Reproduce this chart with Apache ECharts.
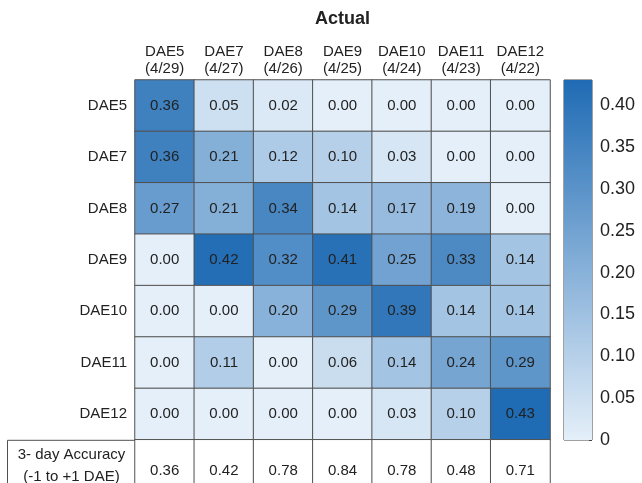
<!DOCTYPE html>
<html>
<head>
<meta charset="utf-8">
<script src="https://cdn.jsdelivr.net/npm/echarts@6/dist/echarts.min.js"></script>
<style>
  html, body { margin: 0; padding: 0; background: #fff; }
  #chart { width: 642px; height: 483px; }
</style>
</head>
<body>
<div id="chart"></div>
<script>
// Actual stage (columns) and predicted stage (rows)
const actualStages = ['DAE5', 'DAE7', 'DAE8', 'DAE9', 'DAE10', 'DAE11', 'DAE12'];
const actualDates = ['(4/29)', '(4/27)', '(4/26)', '(4/25)', '(4/24)', '(4/23)', '(4/22)'];
const predictedStages = ['DAE5', 'DAE7', 'DAE8', 'DAE9', 'DAE10', 'DAE11', 'DAE12'];

// Fraction of samples per predicted row (one array per row)
const rowDAE5 = [0.36, 0.05, 0.02, 0.00, 0.00, 0.00, 0.00];
const rowDAE7 = [0.36, 0.21, 0.12, 0.10, 0.03, 0.00, 0.00];
const rowDAE8 = [0.27, 0.21, 0.34, 0.14, 0.17, 0.19, 0.00];
const rowDAE9 = [0.00, 0.42, 0.32, 0.41, 0.25, 0.33, 0.14];
const rowDAE10 = [0.00, 0.00, 0.20, 0.29, 0.39, 0.14, 0.14];
const rowDAE11 = [0.00, 0.11, 0.00, 0.06, 0.14, 0.24, 0.29];
const rowDAE12 = [0.00, 0.00, 0.00, 0.00, 0.03, 0.10, 0.43];

// 3-day accuracy per actual stage (-1 to +1 DAE)
const accuracy = [0.36, 0.42, 0.78, 0.84, 0.78, 0.48, 0.71];
const accuracyLabel = '3- day Accuracy\n(-1 to +1 DAE)';

// Colour scale
const colorMin = 0;
const colorMax = 0.43;
const colorTicks = [0, 0.05, 0.10, 0.15, 0.20, 0.25, 0.30, 0.35, 0.40];
const colorLight = '#e4eff9';
const colorDark = '#1f6bb4';

const rows = [rowDAE5, rowDAE7, rowDAE8, rowDAE9, rowDAE10, rowDAE11, rowDAE12];
const ACC = 'acc';
const yCats = predictedStages.concat([ACC]);

const heatData = [];
rows.forEach((r, ri) => r.forEach((v, ci) => heatData.push([ci, ri, v])));
const accData = accuracy.map((v, ci) => [ci, predictedStages.length, v]);

// layout
const gridLeft = 135, gridTop = 80, gridWidth = 415, rowH = 51.4;
const gridHeight = rowH * yCats.length;

const FONT = 'Liberation Sans, Arial, sans-serif';
const TXT = '#222';
const EDGE = '#505050';

const chart = echarts.init(document.getElementById('chart'));
chart.setOption({
  animation: false,
  textStyle: { fontFamily: FONT },
  grid: [
    { left: gridLeft, top: gridTop, width: gridWidth, height: gridHeight, outerBoundsMode: 'none', containLabel: false },
    { left: 564, top: 80, width: 28, height: 360, show: true, borderColor: '#444', borderWidth: 1, backgroundColor: 'transparent', outerBoundsMode: 'none', containLabel: false }
  ],
  xAxis: [
    {
      gridIndex: 0,
      type: 'category',
      position: 'top',
      data: actualStages.map((s, i) => s + '\n' + actualDates[i]),
      axisLine: { show: false },
      axisTick: { show: false },
      axisLabel: { interval: 0, fontSize: 15, lineHeight: 17, color: TXT, margin: 3, fontFamily: FONT },
      name: 'Actual',
      nameLocation: 'middle',
      nameGap: 52,
      nameTextStyle: { fontSize: 18, fontWeight: 'bold', color: TXT, fontFamily: FONT },
      splitArea: { show: false }
    },
    {
      gridIndex: 1,
      type: 'category',
      data: ['c'],
      show: false
    }
  ],
  yAxis: [
    {
      gridIndex: 0,
      type: 'category',
      inverse: true,
      data: yCats,
      axisLine: { show: false },
      axisTick: { show: false },
      axisLabel: {
        interval: 0, fontSize: 15, color: TXT, margin: 8, fontFamily: FONT,
        formatter: v => (v === ACC ? '' : v)
      }
    },
    {
      gridIndex: 1,
      type: 'value',
      position: 'right',
      min: colorMin,
      max: colorMax,
      interval: 0.05,
      splitLine: { show: false },
      axisLine: { show: false },
      axisTick: { show: true, inside: true, length: 3, lineStyle: { color: '#444' } },
      axisLabel: {
        fontSize: 18, color: TXT, margin: 8, fontFamily: FONT,
        showMaxLabel: true,
        formatter: v => {
          const hit = colorTicks.find(t => Math.abs(t - v) < 1e-6);
          if (hit === undefined) return '';
          return hit === 0 ? '0' : hit.toFixed(2);
        }
      }
    }
  ],
  visualMap: {
    show: false,
    type: 'continuous',
    seriesIndex: 0,
    dimension: 2,
    min: colorMin,
    max: colorMax,
    inRange: { color: [colorLight, colorDark] }
  },
  series: [
    {
      type: 'heatmap',
      xAxisIndex: 0,
      yAxisIndex: 0,
      data: heatData,
      itemStyle: { borderColor: EDGE, borderWidth: 1 },
      label: { show: true, fontSize: 15, color: TXT, fontFamily: FONT, formatter: p => p.value[2].toFixed(2) },
      emphasis: { disabled: true }
    },
    {
      type: 'heatmap',
      xAxisIndex: 0,
      yAxisIndex: 0,
      data: accData,
      itemStyle: { color: '#ffffff', borderColor: EDGE, borderWidth: 1 },
      label: { show: true, fontSize: 15, color: TXT, fontFamily: FONT, offset: [0, 5], formatter: p => p.value[2].toFixed(2) },
      emphasis: { disabled: true }
    },
    {
      type: 'bar',
      xAxisIndex: 1,
      yAxisIndex: 1,
      data: [colorMax],
      barWidth: '100%',
      itemStyle: {
        color: {
          type: 'linear', x: 0, y: 1, x2: 0, y2: 0,
          colorStops: [{ offset: 0, color: colorLight }, { offset: 1, color: colorDark }]
        }
      },
      emphasis: { disabled: true },
      silent: true
    }
  ],
  graphic: [
    {
      type: 'group',
      left: 7,
      top: gridTop + rowH * predictedStages.length,
      children: [
        {
          type: 'rect',
          shape: { x: 0, y: 0, width: gridLeft - 7, height: rowH + 20 },
          style: { fill: '#fff', stroke: EDGE, lineWidth: 1 }
        },
        {
          type: 'text',
          x: (gridLeft - 7) / 2,
          y: rowH / 2,
          style: {
            text: accuracyLabel,
            fontSize: 15, lineHeight: 22, fill: TXT, fontFamily: FONT,
            align: 'center', verticalAlign: 'middle'
          }
        }
      ]
    }
  ]
});
</script>
</body>
</html>
